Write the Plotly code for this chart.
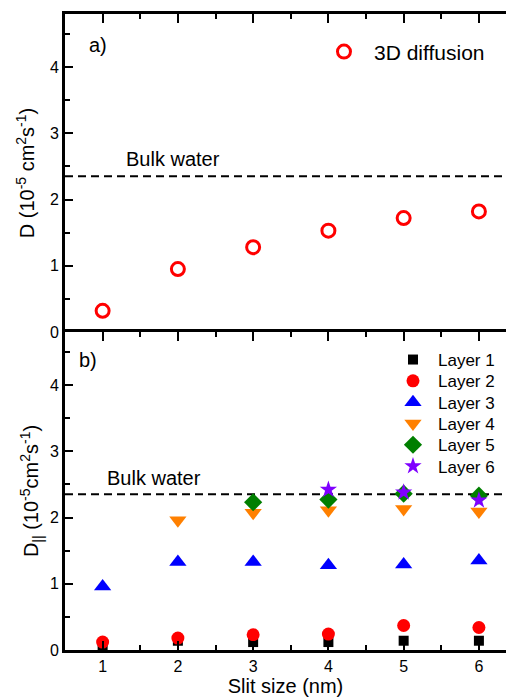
import plotly.graph_objects as go

# Slit sizes (nm)
slit_size = [1, 2, 3, 4, 5, 6]

# a) 3D diffusion coefficient, 10^-5 cm^2/s
d_3d = [0.32, 0.95, 1.28, 1.53, 1.72, 1.82]

# b) in-plane diffusion coefficient per water layer
layer_names = ["Layer 1", "Layer 2", "Layer 3", "Layer 4", "Layer 5", "Layer 6"]
layer_x = [
    [1, 2, 3, 4, 5, 6],
    [1, 2, 3, 4, 5, 6],
    [1, 2, 3, 4, 5, 6],
    [2, 3, 4, 5, 6],
    [3, 4, 5, 6],
    [4, 5, 6],
]
layer_d = [
    [0.05, 0.14, 0.12, 0.12, 0.14, 0.14],
    [0.12, 0.18, 0.23, 0.24, 0.37, 0.34],
    [0.96, 1.33, 1.33, 1.28, 1.29, 1.35],
    [1.96, 2.07, 2.11, 2.13, 2.09],
    [2.23, 2.27, 2.36, 2.33],
    [2.42, 2.38, 2.26],
]
layer_symbols = ["square", "circle", "triangle-up", "triangle-down", "diamond", "star"]
layer_colors = ["#000000", "#FF0000", "#0000FF", "#FF8000", "#007F00", "#7F00FF"]
layer_sizes = [10, 13, 15, 15, 14, 13]

BULK_WATER = 2.35

FONT = "Liberation Sans, Arial, sans-serif"

fig = go.Figure()

fig.add_trace(go.Scatter(
    x=slit_size, y=d_3d, mode="markers", name="3D diffusion",
    xaxis="x2", yaxis="y2", legend="legend",
    marker=dict(symbol="circle-open", size=13, color="#FF0000",
                line=dict(width=3, color="#FF0000")),
))

# one legend box per layer so the rows sit at a tight, even spacing
layer_legends = ["legend%d" % (i + 2) for i in range(len(layer_names))]
for name, xs, ys, sym, col, sz, lg in zip(layer_names, layer_x, layer_d,
                                          layer_symbols, layer_colors,
                                          layer_sizes, layer_legends):
    fig.add_trace(go.Scatter(
        x=xs, y=ys, mode="markers", name=name,
        xaxis="x", yaxis="y", legend=lg,
        marker=dict(symbol=sym, size=sz, color=col, line=dict(width=0)),
    ))

# Bulk water reference in both panels
for xr, yr in (("x domain", "y"), ("x2 domain", "y2")):
    fig.add_shape(type="line", xref=xr, yref=yr, x0=0, x1=1,
                  y0=BULK_WATER, y1=BULK_WATER, layer="below",
                  line=dict(color="black", width=2, dash="8px,5px"))

txt = dict(family=FONT, size=20, color="black")
fig.add_annotation(text="Bulk water", xref="x2 domain", yref="y2 domain",
                   x=0.134, y=0.544, xanchor="left", yanchor="middle",
                   showarrow=False, font=txt)
fig.add_annotation(text="Bulk water", xref="x domain", yref="y domain",
                   x=0.091, y=0.542, xanchor="left", yanchor="middle",
                   showarrow=False, font=txt)
fig.add_annotation(text="a)", xref="x2 domain", yref="y2 domain",
                   x=0.05, y=0.9025, xanchor="left", yanchor="middle",
                   showarrow=False, font=txt)
fig.add_annotation(text="b)", xref="x domain", yref="y domain",
                   x=0.027, y=0.912, xanchor="left", yanchor="middle",
                   showarrow=False, font=txt)

XR = [0.5, 6.36]
YR = [0, 4.8]
tickfont = dict(family=FONT, size=16, color="black")
titlefont = dict(family=FONT, size=20, color="black")

common_x = dict(range=XR, showgrid=False, zeroline=False, showline=True,
                linecolor="black", linewidth=3, ticks="inside", ticklen=9,
                tickwidth=2, tickcolor="black", tick0=1, dtick=1,
                minor=dict(ticks="inside", ticklen=5, tickwidth=2,
                           tickcolor="black", dtick=0.5, tick0=0.5))
common_y = dict(range=YR, showgrid=False, zeroline=False, showline=True,
                linecolor="black", linewidth=3, ticks="inside", ticklen=8,
                tickwidth=2, tickcolor="black", tick0=0, dtick=1,
                tickfont=tickfont,
                minor=dict(ticks="inside", ticklen=5, tickwidth=2,
                           tickcolor="black", dtick=0.5, tick0=0))

legends = dict(
    legend=dict(x=0.5646, y=0.9403, xanchor="left", yanchor="middle",
                bgcolor="rgba(0,0,0,0)", itemwidth=50,
                font=dict(family=FONT, size=21, color="black")),
)
row_top, row_step = 0.4560, 0.0335
for i, lg in enumerate(layer_legends):
    legends[lg] = dict(x=0.7324, y=row_top - i * row_step,
                       xanchor="left", yanchor="middle",
                       bgcolor="rgba(0,0,0,0)", itemwidth=40,
                       font=dict(family=FONT, size=17, color="black"))

fig.update_layout(
    width=506, height=700,
    margin=dict(l=65, r=0, t=14, b=50),
    paper_bgcolor="white", plot_bgcolor="white",
    font=dict(family=FONT, color="black"),
    showlegend=True,
    xaxis=dict(common_x, domain=[0, 1], anchor="y", mirror="ticks",
               tickfont=tickfont,
               title=dict(text="Slit size (nm)", font=titlefont, standoff=4)),
    yaxis=dict(common_y, domain=[0, 0.5], anchor="x",
               title=dict(text="D<sub>||</sub> (10<sup>-5</sup>cm<sup>2</sup>s<sup>-1</sup>)",
                          font=titlefont, standoff=6)),
    xaxis2=dict(common_x, domain=[0, 1], anchor="y2", side="top",
                showticklabels=False),
    yaxis2=dict(common_y, domain=[0.5, 1], anchor="x2",
                title=dict(text="D (10<sup>-5</sup> cm<sup>2</sup>s<sup>-1</sup>)",
                           font=titlefont, standoff=10)),
    **legends,
)

fig.write_html("out.html")
